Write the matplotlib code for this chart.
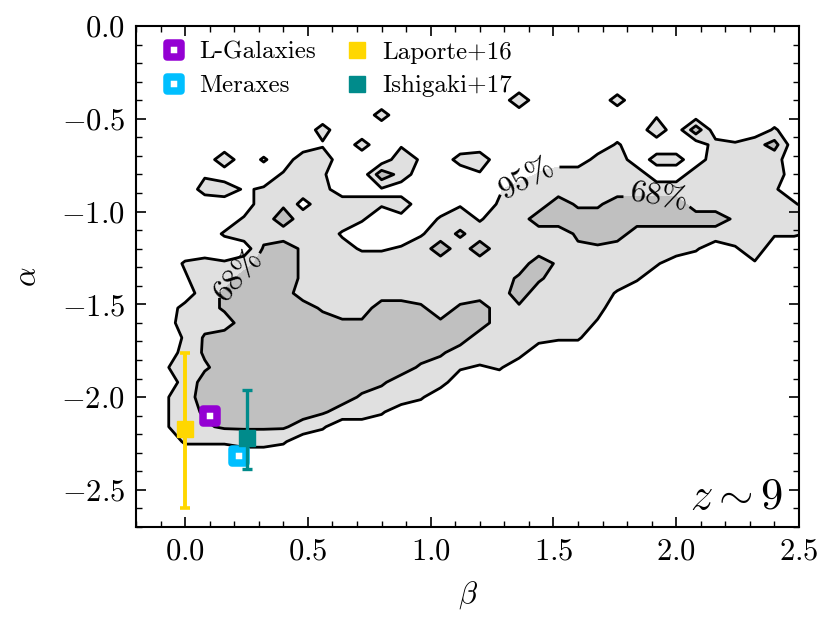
import numpy as np
import matplotlib.pyplot as plt
from matplotlib.markers import MarkerStyle
from matplotlib.ticker import MultipleLocator

plt.rcParams['font.family'] = 'serif'
plt.rcParams['font.serif'] = ['cmr10']
plt.rcParams['mathtext.fontset'] = 'cm'
plt.rcParams['axes.formatter.use_mathtext'] = True

# posterior density levels, on a 0.08 x 0.08 grid
# (0 = outside, 3-6 = inside 95%, 7-9 = inside 68%)
beta_grid = -0.16 + 0.08 * np.arange(35)
alpha_grid = -0.16 - 0.08 * np.arange(28)
density_rows = [
    "00000000000000000000000000000000000",
    "00000000000000000000000000000000000",
    "00000000000000000000000200000000000",
    "00000000000000000005000040000000000",
    "00000000000040000000000000200000000",
    "00000000040000000000000000509000300",
    "00000000020402000000000030000435800",
    "00005030550005204500000450440555400",
    "00020003530095000200355555005555500",
    "00045235540020000025555555555555300",
    "00000056155535002035586688885555530",
    "00000358555301035255888888888865555",
    "00003555552000257555557885555555332",
    "00000078654223585855556655553025000",
    "00343588655555555555865555300002000",
    "00255888655555555557755553000000000",
    "00057888555555555558555520000000000",
    "00457888865588757856555400000000000",
    "00555888887788878855555200000000000",
    "00378888888888888555433000000000000",
    "00478888888888875554000000000000000",
    "02568888888888653230000000000000000",
    "00488888888875540000000000000000000",
    "02588888888655300000000000000000000",
    "02578888875530000000000000000000000",
    "02567777530000000000000000000000000",
    "00333443000000000000000000000000000",
    "00000000000000000000000000000000000",
]
level_95 = 2.5
level_68 = 6.5

# model / observational points
lgal_beta, lgal_alpha = [0.10], [-2.10]
merax_beta, merax_alpha = [0.22], [-2.32]
laporte_beta, laporte_alpha = [0.0], [-2.17]
laporte_lo, laporte_hi = [0.43], [0.41]
ishigaki_beta, ishigaki_alpha = [0.25], [-2.22]
ishigaki_lo, ishigaki_hi = [0.17], [0.26]

Z = np.array([[int(c) for c in row] for row in density_rows], dtype=float)
B, A = np.meshgrid(beta_grid, alpha_grid)

fig = plt.figure(figsize=(8.3, 6.28), dpi=100)
ax = fig.add_axes([136/830, 101/628, 663/830, 501/628])

ax.contourf(B, A, Z, levels=[level_95, level_68, 10], colors=['#e0e0e0', '#c0c0c0'])
cs = ax.contour(B, A, Z, levels=[level_95, level_68], colors='k', linewidths=2.0)
ax.clabel(cs, fmt={level_95: '95%', level_68: '68%'}, inline=True, fontsize=23,
          inline_spacing=6, manual=[(1.41, -0.85), (1.93, -0.89), (0.25, -1.38)])

open_sq = MarkerStyle('s', joinstyle='round')
ax.plot(lgal_beta, lgal_alpha, ls='none', marker=open_sq, ms=10.4, mew=5.4,
        mfc='white', mec='darkviolet', label='L-Galaxies', zorder=5)
ax.plot(merax_beta, merax_alpha, ls='none', marker=open_sq, ms=10.4, mew=5.4,
        mfc='white', mec='deepskyblue', label='Meraxes', zorder=5)

ax.errorbar(laporte_beta, laporte_alpha, yerr=[laporte_lo, laporte_hi], fmt='none',
            ecolor='gold', elinewidth=2.8, capsize=3.4, capthick=2.6, zorder=6)
ax.plot(laporte_beta, laporte_alpha, 's', color='gold', ms=12, label='Laporte+16', zorder=6)
ax.errorbar(ishigaki_beta, ishigaki_alpha, yerr=[ishigaki_lo, ishigaki_hi], fmt='none',
            ecolor='darkcyan', elinewidth=2.4, capsize=3.4, capthick=2.4, zorder=7)
ax.plot(ishigaki_beta, ishigaki_alpha, 's', color='darkcyan', ms=12, label='Ishigaki+17', zorder=7)

ax.legend(loc='upper left', ncol=2, frameon=False, fontsize=18, borderpad=0.0,
          borderaxespad=0.6, handlelength=1.8, handletextpad=0.12,
          columnspacing=0.75, labelspacing=0.45)

ax.text(0.976, 0.036, r'$z\sim9$', transform=ax.transAxes, ha='right',
        va='baseline', fontsize=32)

ax.set_xlim(-0.2, 2.5)
ax.set_ylim(-2.7, 0.0)
ax.xaxis.set_major_locator(MultipleLocator(0.5))
ax.yaxis.set_major_locator(MultipleLocator(0.5))
ax.xaxis.set_minor_locator(MultipleLocator(0.1))
ax.yaxis.set_minor_locator(MultipleLocator(0.1))
ax.tick_params(which='both', direction='in', top=True, right=True, labelsize=22, pad=8)
ax.tick_params(which='major', length=7.5, width=1.2)
ax.tick_params(which='minor', length=4, width=1.0)
for s in ax.spines.values():
    s.set_linewidth(1.5)

ax.set_xlabel(r'$\beta$', fontsize=22, labelpad=10)
ax.set_ylabel(r'$\alpha$', fontsize=22, labelpad=14)

fig.savefig('out.png', dpi=100)
